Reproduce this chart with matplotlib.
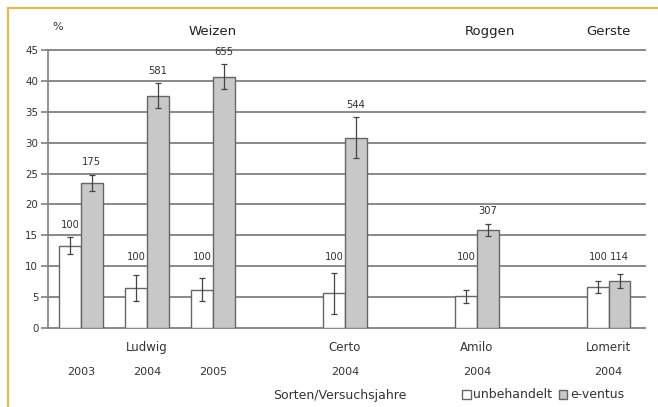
import matplotlib.pyplot as plt
from matplotlib.lines import Line2D
from matplotlib.patches import Patch
import numpy as np

plt.rcParams['font.family'] = ['DejaVu Sans']

# Daten (Anteil in %, Fehler, Beschriftung)
slots = [0, 1, 2, 4, 6, 8]
sorten = ['', 'Ludwig', '', 'Certo', 'Amilo', 'Lomerit']
jahre = ['2003', '2004', '2005', '2004', '2004', '2004']
unbehandelt = [13.3, 6.5, 6.2, 5.6, 5.1, 6.6]
unbehandelt_err = [1.4, 2.1, 1.9, 3.3, 1.0, 1.0]
unbehandelt_lbl = ['100', '100', '100', '100', '100', '100']
eventus = [23.5, 37.6, 40.7, 30.8, 15.9, 7.6]
eventus_err = [1.3, 2.0, 2.0, 3.3, 1.0, 1.1]
eventus_lbl = ['175', '581', '655', '544', '307', '114']
gruppen = ['Weizen', 'Roggen', 'Gerste']
gruppen_x = [2.0, 6.2, 8.0]

fig = plt.figure(figsize=(6.58, 4.07), dpi=100)
ax = fig.add_axes([48/658, 1-328/407, 597/658, 278/407])

x = np.array(slots)
w = 0.33
kanten = '#666666'
ax.bar(x - w/2, unbehandelt, w, color='white', edgecolor=kanten, linewidth=1.0, zorder=3)
ax.bar(x + w/2, eventus, w, color='#c8c8c8', edgecolor=kanten, linewidth=1.0, zorder=3)
ax.errorbar(x - w/2, unbehandelt, yerr=unbehandelt_err, fmt='none', ecolor='#444444',
            elinewidth=0.9, capsize=2, capthick=0.9, zorder=4)
ax.errorbar(x + w/2, eventus, yerr=eventus_err, fmt='none', ecolor='#444444',
            elinewidth=0.9, capsize=2, capthick=0.9, zorder=4)

fs = 7.2
tc = '#333333'
for xi, v, e, l in zip(x - w/2, unbehandelt, unbehandelt_err, unbehandelt_lbl):
    ax.text(xi, max(v + e, 9.5) + 2, l, ha='center', va='center', fontsize=fs, color=tc)
for xi, v, e, l in zip(x + w/2, eventus, eventus_err, eventus_lbl):
    ax.text(xi, max(v + e, 9.5) + 2, l, ha='center', va='center', fontsize=fs, color=tc)

ax.set_xlim(-0.5, 8.55)
ax.set_ylim(0, 45)
ax.set_yticks(range(0, 46, 5))
ax.set_xticks([])
ax.grid(axis='y', color='#808080', linewidth=1.3, zorder=0)
for line in ax.get_ygridlines():
    line.set_clip_on(False)
for s in ['top', 'right', 'bottom']:
    ax.spines[s].set_visible(False)
ax.spines['left'].set_color('#808080')
ax.spines['left'].set_linewidth(1.2)
ax.tick_params(axis='y', length=5, width=1.2, color='#808080', labelsize=7.4, labelcolor=tc, pad=2)

# Beschriftungen unter der Achse
trans = ax.get_xaxis_transform()
for xi, s, j in zip(x, sorten, jahre):
    ax.text(xi, -0.07, s, transform=trans, ha='center', va='center', fontsize=8.5, color=tc)
    ax.text(xi, -0.16, j, transform=trans, ha='center', va='center', fontsize=8, color=tc)

for g, gx in zip(gruppen, gruppen_x):
    ax.text(gx, 1.065, g, transform=trans, ha='center', va='center', fontsize=9.5, color='#222222')

fig.text(58/658, 1-27/407, '%', ha='center', va='center', fontsize=8, color=tc)
fig.text(340/658, 1-395/407, 'Sorten/Versuchsjahre', ha='center', va='center', fontsize=9, color=tc)

handles = [Patch(facecolor='white', edgecolor=kanten, label='unbehandelt'),
           Patch(facecolor='#c8c8c8', edgecolor=kanten, label='e-ventus')]
fig.legend(handles=handles, loc='center', bbox_to_anchor=(543/658, 1-395/407), ncol=2,
           frameon=False, fontsize=9, handlelength=0.7, handleheight=0.7,
           handletextpad=0.2, columnspacing=0.5, labelcolor=tc)

# orangener Rahmen
fig.add_artist(Line2D([8/658, 1], [1-8/407, 1-8/407], transform=fig.transFigure,
                      color='#f5b342', linewidth=1.5))
fig.add_artist(Line2D([8/658, 8/658], [0, 1-8/407], transform=fig.transFigure,
                      color='#f5b342', linewidth=1.5))

fig.savefig('out.png', dpi=100)
